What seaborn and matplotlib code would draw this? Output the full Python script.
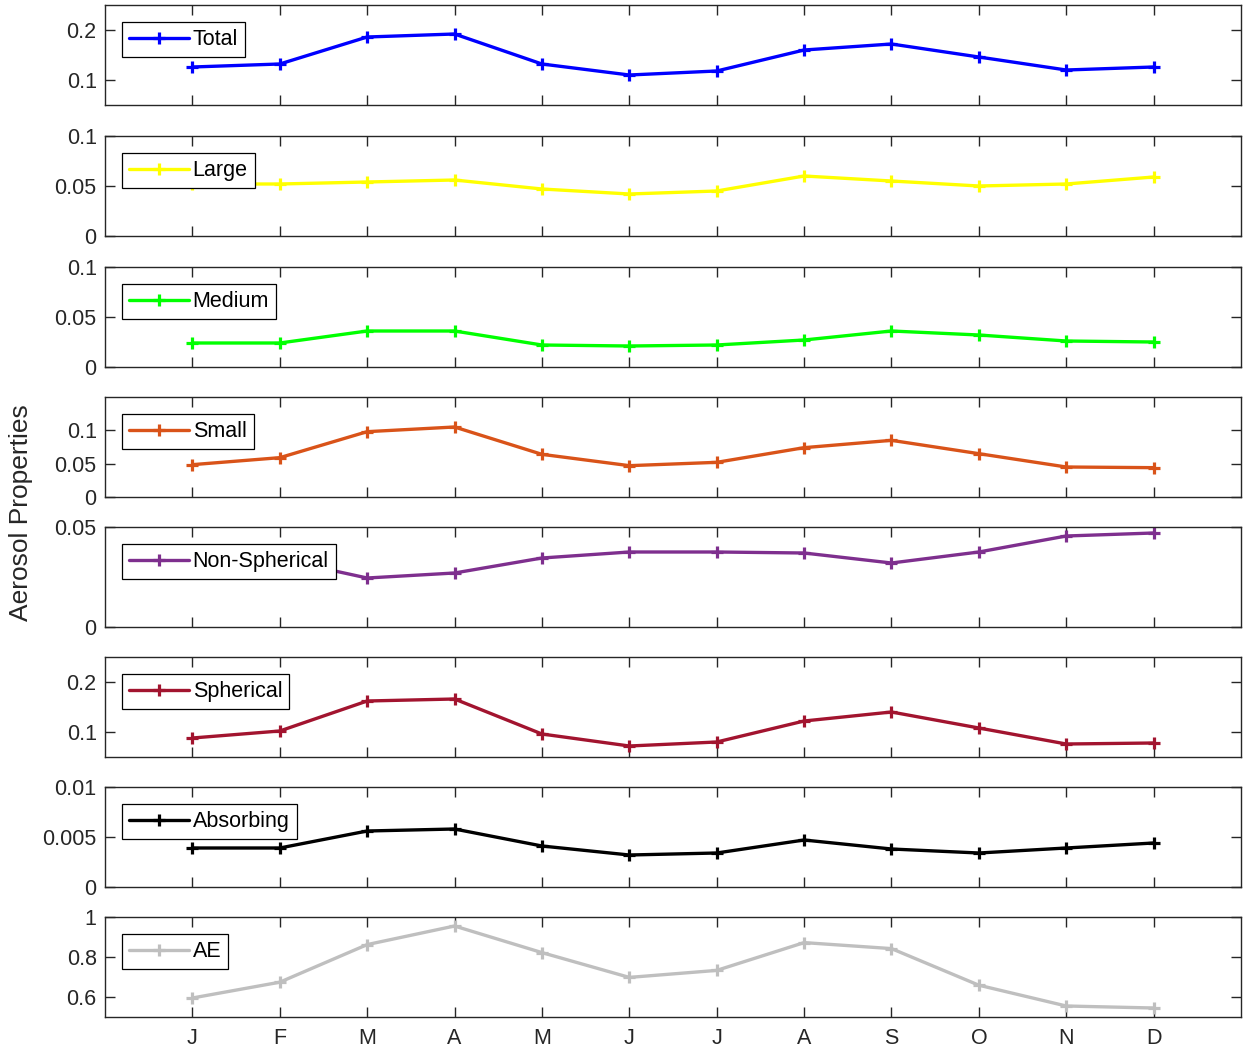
import matplotlib
matplotlib.use("Agg")
import matplotlib.pyplot as plt
import seaborn as sns
import pandas as pd
import numpy as np

months = ["J", "F", "M", "A", "M", "J", "J", "A", "S", "O", "N", "D"]
month_pos = list(range(1, 13))

total = [0.126, 0.132, 0.186, 0.192, 0.132, 0.110, 0.118, 0.160, 0.172, 0.146, 0.120, 0.126]
large = [0.052, 0.052, 0.054, 0.056, 0.047, 0.042, 0.045, 0.060, 0.055, 0.050, 0.052, 0.059]
medium = [0.024, 0.024, 0.036, 0.036, 0.022, 0.021, 0.022, 0.027, 0.036, 0.032, 0.026, 0.025]
small = [0.0485, 0.059, 0.098, 0.105, 0.064, 0.047, 0.052, 0.074, 0.085, 0.065, 0.045, 0.044]
nonspherical = [0.033, 0.034, 0.0245, 0.027, 0.0345, 0.0375, 0.0375, 0.037, 0.032, 0.0375, 0.0455, 0.047]
spherical = [0.088, 0.102, 0.162, 0.166, 0.096, 0.072, 0.080, 0.122, 0.140, 0.108, 0.076, 0.078]
absorbing = [0.0039, 0.0039, 0.0056, 0.0058, 0.0041, 0.0032, 0.0034, 0.0047, 0.0038, 0.0034, 0.0039, 0.0044]
ae = [0.595, 0.674, 0.862, 0.955, 0.822, 0.698, 0.733, 0.872, 0.842, 0.659, 0.555, 0.545]

names = ["Total", "Large", "Medium", "Small", "Non-Spherical", "Spherical", "Absorbing", "AE"]
series = [total, large, medium, small, nonspherical, spherical, absorbing, ae]
colors = ["#0000ff", "#ffff00", "#00ff00", "#d95319", "#7e2f8e", "#a2142f", "#000000", "#bfbfbf"]
ylims = [(0.05, 0.25), (0, 0.1), (0, 0.1), (0, 0.15), (0, 0.05), (0.05, 0.25), (0, 0.01), (0.5, 1.0)]
yticks = [[0.1, 0.2], [0, 0.05, 0.1], [0, 0.05, 0.1], [0, 0.05, 0.1], [0, 0.05],
          [0.1, 0.2], [0, 0.005, 0.01], [0.6, 0.8, 1.0]]
yticklabels = [["0.1", "0.2"], ["0", "0.05", "0.1"], ["0", "0.05", "0.1"], ["0", "0.05", "0.1"],
               ["0", "0.05"], ["0.1", "0.2"], ["0", "0.005", "0.01"], ["0.6", "0.8", "1"]]

sns.set_theme(style="white")
plt.rcParams["font.family"] = ["Liberation Sans", "DejaVu Sans"]

W, H = 1249, 1050
fig = plt.figure(figsize=(W / 100, H / 100), dpi=100)

tops = [5, 136, 267, 397, 527, 657, 787, 917]
left_px, right_px, ph = 105, 1241, 100
gray = "#262626"

for i, (name, vals, col) in enumerate(zip(names, series, colors)):
    top = tops[i]
    ax = fig.add_axes([left_px / W, 1 - (top + ph) / H, (right_px - left_px) / W, ph / H])
    df = pd.DataFrame({"month": month_pos, "value": vals})
    sns.lineplot(data=df, x="month", y="value", ax=ax, color=col, linewidth=2.4,
                 marker="+", markersize=9, markeredgewidth=2.3, markeredgecolor=col,
                 label=name)
    ax.set_xlim(0, 13)
    ax.set_ylim(*ylims[i])
    ax.set_yticks(yticks[i])
    ax.set_yticklabels(yticklabels[i])
    ax.set_xticks(month_pos)
    if i == len(names) - 1:
        ax.set_xticklabels(months)
    else:
        ax.set_xticklabels([])
    ax.set_xlabel("")
    ax.set_ylabel("")
    ax.tick_params(direction="in", length=7, width=1, top=True, right=True,
                   bottom=True, left=True, colors=gray, labelsize=15.5, labelcolor=gray, pad=6)
    ax.tick_params(axis="x", pad=8)
    for s in ax.spines.values():
        s.set_color(gray)
        s.set_linewidth(1)
    leg = ax.legend(loc="upper left", bbox_to_anchor=(0.015, 0.83), fontsize=15.5,
                    frameon=True, fancybox=False, framealpha=1, edgecolor="black",
                    handlelength=2.8, handletextpad=0.15, borderpad=0.33, borderaxespad=0.0)
    leg.get_frame().set_linewidth(0.9)
    for t in leg.get_texts():
        t.set_color("black")

fig.text(0.017, 0.512, "Aerosol Properties", rotation=90, ha="center", va="center",
         fontsize=19, color=gray)

fig.savefig("out.png", dpi=100)
